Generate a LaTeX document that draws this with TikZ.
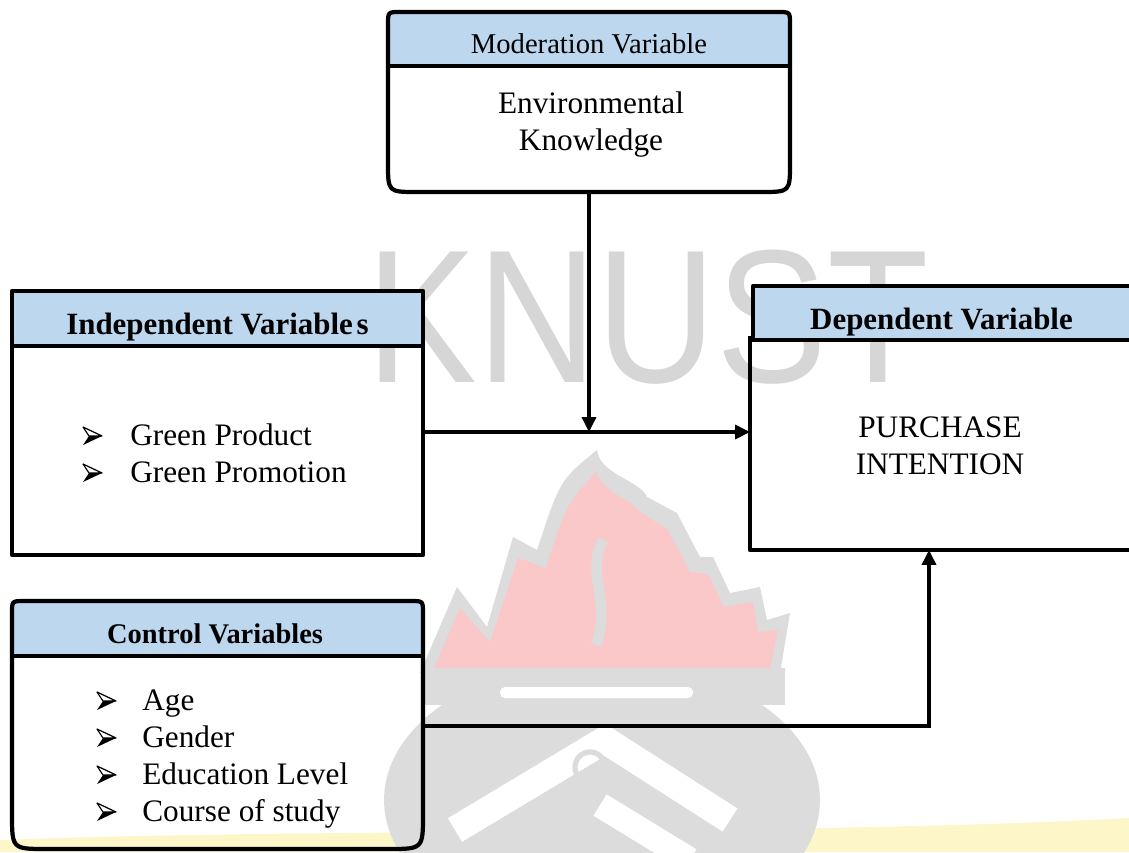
\documentclass[tikz,border=0pt]{standalone}
\usepackage{fontspec}
\setmainfont{Liberation Serif}
\newfontfamily\wmfont{Liberation Sans}
\usetikzlibrary{arrows.meta}
\definecolor{hdrblue}{RGB}{189,215,238}
\definecolor{wmgray}{RGB}{220,220,220}
\definecolor{wmtext}{RGB}{214,214,214}
\definecolor{wmpink}{RGB}{250,200,200}
\definecolor{wmyellow}{RGB}{252,246,200}
\newcommand\fitem{\fontsize{17.8}{21}\selectfont}
\newcommand\fhead{\fontsize{17.6}{21}\selectfont\bfseries}
\newcommand\fctl{\fontsize{16.2}{19}\selectfont\bfseries}
\newcommand\fmod{\fontsize{16.3}{19}\selectfont}
\tikzset{
  border/.style={line width=2.4pt, line join=round},
  conn/.style={line width=2pt, -{Triangle[length=0.3cm,width=0.28cm]}},
  anchorbox/.style={inner sep=0pt, outer sep=0pt, draw=none},
  txt/.style={inner sep=0pt, anchor=base},
  itemtxt/.style={inner sep=0pt, anchor=base west, font=\fitem},
  bul/.pic={
    \draw[line width=0.7pt, fill=white, line join=round] (0,-9) -- (19,0) -- (6,0) -- cycle;
    \fill (0,9) -- (19,0) -- (6,0) -- cycle;
  }
}
\begin{document}
\begin{tikzpicture}[x=0.02cm,y=-0.02cm]
\useasboundingbox (0,0) rectangle (1129,852);
\clip (0,0) rectangle (1129,852);

% ---- watermark ----
\fill[wmyellow] (0,840) .. controls (300,828) and (800,836) .. (1129,818) -- (1129,852) -- (0,852) -- cycle;
\fill[wmgray] (602,800) ellipse [x radius=4.36cm, y radius=2.8cm];
\draw[white, line width=0.55cm, line cap=butt] (455,830) -- (605,740) -- (730,820);
\draw[white, line width=0.5cm] (600,805) -- (690,860);
\draw[wmgray, line width=3pt] (590,767) circle [radius=0.3cm];
\fill[wmgray] (420,673) -- (457,587) -- (487,627) -- (513,537) -- (537,550)
  .. controls (560,480) .. (597,450) .. controls (600,475) and (640,480) .. (647,497)
  -- (677,513) -- (700,557) -- (713,557) -- (730,593) -- (760,587) -- (767,620)
  -- (790,613) -- (780,673) -- cycle;
\fill[wmpink] (434,668) -- (460,608) -- (490,642) -- (518,558) -- (546,568)
  .. controls (566,505) .. (596,472) .. controls (606,496) and (630,497) .. (640,512)
  -- (668,530) -- (690,572) -- (708,574) -- (724,607) -- (753,602) -- (758,632)
  -- (778,630) -- (770,668) -- cycle;
\draw[wmgray, line width=6pt] (603,540) .. controls (585,575) and (612,600) .. (596,645);
\fill[wmgray] (425,668) rectangle (785,705);
\fill[white, rounded corners=0.1cm] (500,687) rectangle (693,698);
\node[inner sep=0pt, anchor=base west, text=wmtext, xscale=0.875,
  font=\wmfont\fontsize{108}{120}\selectfont] (wm) at (366,382) {\smash{KNUST}};

% ---- anchor nodes for the boxes ----
\node[anchorbox, minimum width=8.04cm, minimum height=3.6cm] (mod) at (589,102) {};
\node[anchorbox, minimum width=8.22cm, minimum height=5.28cm] (ind) at (217.5,423) {};
\node[anchorbox, minimum width=7.8cm, minimum height=5.28cm] (dep) at (945,418) {};
\node[anchorbox, minimum width=8.22cm, minimum height=4.96cm] (ctl) at (217.5,725) {};

% ---- moderation box ----
\fill[hdrblue] (388,66) -- (388,24) .. controls (388,12) .. (400,12) -- (778,12)
  .. controls (790,12) .. (790,24) -- (790,66) -- cycle;
\draw[border] (388,100) -- (388,24) .. controls (388,12) .. (400,12) -- (778,12)
  .. controls (790,12) .. (790,24) -- (790,163) .. controls (790,192) .. (761,192)
  -- (417,192) .. controls (388,192) .. (388,163) -- cycle;
\draw[border] (388,66) -- (790,66);

% ---- independent box ----
\fill[hdrblue] (12,291) rectangle (423,346);
\draw[border] (12,291) rectangle (423,555);
\draw[border] (12,346) -- (423,346);

% ---- dependent box ----
\fill[hdrblue] (753,286) rectangle (1140,340);
\draw[border] (753,340) -- (753,286) -- (1140,286);
\draw[border] (750,336) -- (750,550) -- (1140,550);
\draw[border] (750,340) -- (1140,340);

% ---- control box ----
\fill[hdrblue] (12,656) -- (12,613) .. controls (12,601) .. (24,601) -- (411,601)
  .. controls (423,601) .. (423,613) -- (423,656) -- cycle;
\draw[border] (12,700) -- (12,613) .. controls (12,601) .. (24,601) -- (411,601)
  .. controls (423,601) .. (423,613) -- (423,814) .. controls (423,849) .. (388,849)
  -- (47,849) .. controls (12,849) .. (12,814) -- cycle;
\draw[border] (12,656) -- (423,656);

% ---- texts ----
\node[txt, font=\fmod] (modh) at (589,53) {Moderation Variable};
\node[txt, font=\fitem] (env1) at (591,113) {Environmental};
\node[txt, font=\fitem] (env2) at (591,150) {Knowledge};
\node[txt, font=\fhead] (indh) at (217.5,334) {Independent Variable\hspace{0.12em}s};
\node[txt, font=\fhead] (deph) at (941.5,329) {Dependent Variable};
\node[txt, font=\fctl] (ctlh) at (215,643) {Control Variables};
\node[txt, font=\fitem] (pi1) at (940,437) {PURCHASE};
\node[txt, font=\fitem] (pi2) at (940,474) {INTENTION};

\pic at (83,436) {bul};
\node[itemtxt] (i1) at (130,445) {Green Product};
\pic at (83,473) {bul};
\node[itemtxt] (i2) at (130,482) {Green Promotion};

\pic at (97,701) {bul};
\node[itemtxt] (c1) at (142,710) {Age};
\pic at (97,738) {bul};
\node[itemtxt] (c2) at (142,747) {Gender};
\pic at (97,775) {bul};
\node[itemtxt] (c3) at (142,784) {Education Level};
\pic at (97,812) {bul};
\node[itemtxt] (c4) at (142,821) {Course of study};

% ---- connectors ----
\coordinate (j) at (589,432);
\coordinate (k) at (929,726);
\draw[conn] (ind.east |- j) -- (dep.west |- j);
\draw[conn] (mod.south) -- (j);
\draw[conn] (ctl.east |- k) -- (k) -- (k |- dep.south);
\end{tikzpicture}
\end{document}
